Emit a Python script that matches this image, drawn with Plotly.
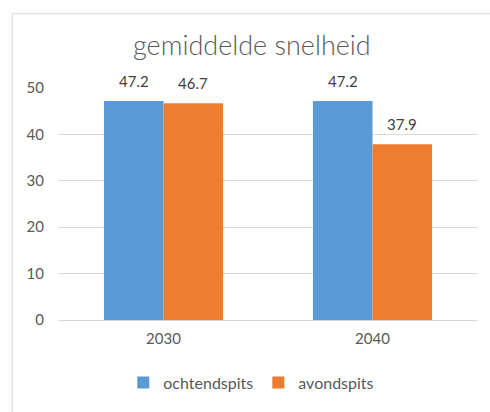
import plotly.graph_objects as go

# Average speed per scenario year, morning vs evening peak
years = ["2030", "2040"]
ochtendspits = [47.2, 47.2]
avondspits = [46.7, 37.9]
series_names = ["ochtendspits", "avondspits"]
colors = ["#5B9BD5", "#ED7D31"]
title_text = "gemiddelde snelheid"
y_ticks = [0, 10, 20, 30, 40, 50]

FONT = "Lato, 'Open Sans', sans-serif"
TEXT_GREY = "#595959"
BARGAP = 0.43

fig = go.Figure()
for name, vals, col in zip(series_names, [ochtendspits, avondspits], colors):
    fig.add_trace(go.Bar(
        name=name, x=years, y=vals, marker=dict(color=col, line=dict(width=0)),
    ))

# value labels above each bar
bar_w = (1 - BARGAP) / 2
for s, vals in enumerate([ochtendspits, avondspits]):
    offset = (s - 0.5) * bar_w
    for i, v in enumerate(vals):
        fig.add_annotation(
            x=i + offset, y=v, text=f"{v:.1f}", showarrow=False,
            yanchor="bottom", yshift=9,
            font=dict(family=FONT, size=15, color="#404040"),
        )

# chart-area border
fig.add_shape(type="rect", xref="paper", yref="paper",
              x0=-0.112, x1=1.2, y0=-0.6, y1=1.32,
              line=dict(color="#D9D9D9", width=1), layer="below")

fig.update_layout(
    width=490, height=412,
    margin=dict(l=59, r=13, t=88, b=89),
    paper_bgcolor="white", plot_bgcolor="white",
    barmode="group", bargap=BARGAP, bargroupgap=0,
    title=dict(text=title_text, x=0.514, xanchor="center", y=0.89, yanchor="middle",
               font=dict(family=FONT, size=27, color=TEXT_GREY, weight=300)),
    font=dict(family=FONT, color=TEXT_GREY),
    showlegend=True,
    legend=dict(orientation="h", x=0.46, xanchor="center", y=-0.27, yanchor="middle",
                font=dict(family=FONT, size=16, color=TEXT_GREY),
                itemwidth=30, traceorder="normal"),
    xaxis=dict(type="category", showgrid=False, showline=False, ticks="",
               tickfont=dict(family=FONT, size=15, color=TEXT_GREY),
               ticklabelstandoff=8),
    yaxis=dict(range=[0, 50], tickvals=y_ticks, showgrid=True, gridcolor="#D9D9D9",
               gridwidth=1, zeroline=True, zerolinecolor="#D9D9D9", zerolinewidth=1,
               showline=False, ticks="",
               tickfont=dict(family=FONT, size=15, color=TEXT_GREY),
               ticklabelstandoff=14),
)

fig.write_html("out.html")
